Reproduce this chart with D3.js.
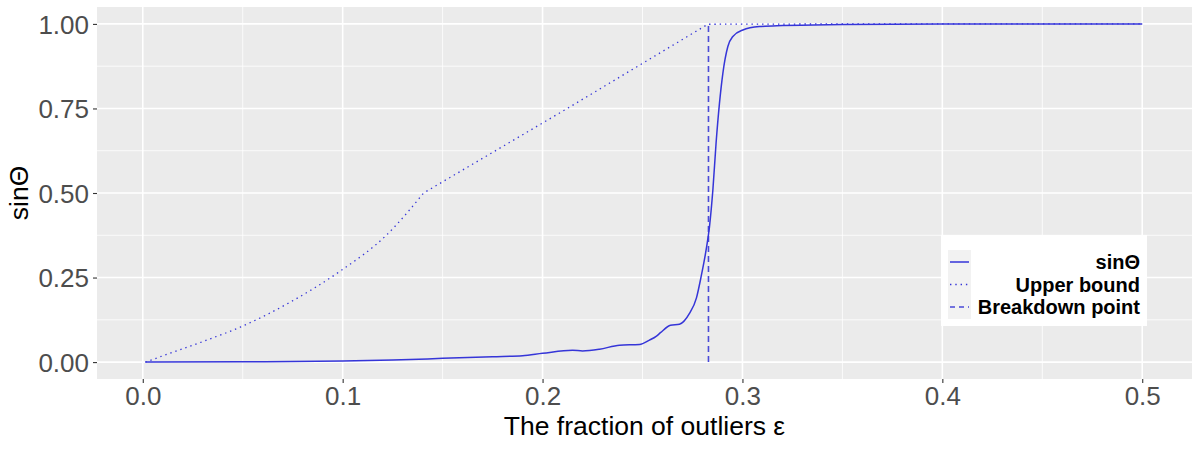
<!DOCTYPE html>
<html><head><meta charset="utf-8">
<script src="https://cdn.jsdelivr.net/npm/d3@7"></script>
<style>body{margin:0;background:#fff;}svg{display:block;font-family:"Liberation Sans",Arial,sans-serif;}</style>
</head><body><svg id="c" width="1200" height="450"></svg>
<script>
// ---- data ----
const sinX = [0.0013,0.05,0.1,0.125,0.15,0.175,0.19,0.2,0.215,0.22,0.2285,0.2385,0.2485,0.2535,0.257,0.259,0.264,0.2685,0.2735,0.277,0.2793,0.2818,0.2835,0.2852,0.2868,0.2885,0.2902,0.2927,0.2952,0.3002,0.3085,0.32,0.35,0.4,0.45,0.5];
const sinY = [0,0.001,0.003,0.006,0.011,0.016,0.019,0.026,0.035,0.033,0.038,0.05,0.052,0.065,0.077,0.087,0.109,0.112,0.144,0.19,0.252,0.331,0.40,0.509,0.647,0.765,0.854,0.933,0.963,0.982,0.992,0.995,0.998,1.0,1.0,1.0];
// upper bound: curved part up to the kink, then straight part
const upX1 = [0.0013,0.015,0.032,0.049,0.074,0.099,0.122,0.1405];
const upY1 = [0,0.029,0.065,0.104,0.178,0.270,0.376,0.500];
const upX2 = [0.1405,0.2118,0.2827,0.35,0.4,0.45,0.5];
const upY2 = [0.500,0.748,0.999,1.0,1.0,1.0,1.0];
const breakdownX = 0.283;
const xTicks = [0,0.1,0.2,0.3,0.4,0.5];
const xTickLabels = ["0.0","0.1","0.2","0.3","0.4","0.5"];
const yTicks = [0,0.25,0.5,0.75,1];
const yTickLabels = ["0.00","0.25","0.50","0.75","1.00"];
const seriesNames = ["sin\u0398","Upper bound","Breakdown point"];

const svg = d3.select("#c");
const L=97, R=1192, T=7, B=379;
const x = d3.scaleLinear().domain([-0.0229,0.5249]).range([L,R]);
const y = d3.scaleLinear().domain([-0.05,1.05]).range([B,T]);
const col = "#3535d8";

svg.append("rect").attr("x",L).attr("y",T).attr("width",R-L).attr("height",B-T).attr("fill","#ebebeb");
const g = svg.append("g");
const xMinor = d3.range(0.05,0.55,0.1);
const yMinor = [0.125,0.375,0.625,0.875];
g.selectAll(".xm").data(xMinor).join("line").attr("x1",d=>x(d)).attr("x2",d=>x(d)).attr("y1",T).attr("y2",B).attr("stroke","#fff").attr("stroke-width",0.8);
g.selectAll(".ym").data(yMinor).join("line").attr("y1",d=>y(d)).attr("y2",d=>y(d)).attr("x1",L).attr("x2",R).attr("stroke","#fff").attr("stroke-width",0.8);
g.selectAll(".xM").data(xTicks).join("line").attr("x1",d=>x(d)).attr("x2",d=>x(d)).attr("y1",T).attr("y2",B).attr("stroke","#fff").attr("stroke-width",1.6);
g.selectAll(".yM").data(yTicks).join("line").attr("y1",d=>y(d)).attr("y2",d=>y(d)).attr("x1",L).attr("x2",R).attr("stroke","#fff").attr("stroke-width",1.6);

const xAxis = d3.axisBottom(x).tickValues(xTicks).tickFormat((d,i)=>xTickLabels[i]).tickSize(4).tickPadding(4);
const yAxis = d3.axisLeft(y).tickValues(yTicks).tickFormat((d,i)=>yTickLabels[i]).tickSize(4).tickPadding(4);
const xa = svg.append("g").attr("transform",`translate(0,${B})`).call(xAxis);
const ya = svg.append("g").attr("transform",`translate(${L},0)`).call(yAxis);
[xa,ya].forEach(a=>{a.select(".domain").remove();a.selectAll(".tick line").attr("stroke","#333").attr("stroke-width",1.1);
 a.selectAll(".tick text").attr("fill","#4d4d4d").style("font-size","26px").style("font-family","'Liberation Sans',Arial,sans-serif");});
ya.selectAll(".tick text").attr("dy","0.36em");

// lines
const lineSmooth = d3.line().x(d=>x(d[0])).y(d=>y(d[1])).curve(d3.curveMonotoneX);
const lineStraight = d3.line().x(d=>x(d[0])).y(d=>y(d[1]));
const p1 = lineSmooth(upX1.map((v,i)=>[v,upY1[i]]));
const p2 = lineStraight(upX2.map((v,i)=>[v,upY2[i]])).replace(/^M/,"L");
svg.append("path").attr("d",p1+p2).attr("fill","none").attr("stroke",col).attr("stroke-width",1.3).attr("stroke-dasharray","1.4,3.9");
svg.append("path").datum([[breakdownX,0],[breakdownX,1]]).attr("d",lineStraight).attr("fill","none").attr("stroke","#4a4ad8").attr("stroke-width",1.6).attr("stroke-dasharray","6,4");
svg.append("path").datum(sinX.map((v,i)=>[v,sinY[i]])).attr("d",lineSmooth).attr("fill","none").attr("stroke",col).attr("stroke-width",1.5);

svg.append("text").attr("x",(L+R)/2).attr("y",435).attr("text-anchor","middle").style("font-size","26.5px").attr("fill","#000").text("The fraction of outliers \u03b5");
svg.append("text").attr("transform",`translate(28,${(T+B)/2}) rotate(-90)`).attr("text-anchor","middle").style("font-size","26.5px").attr("fill","#000").text("sin\u0398");

const lg = svg.append("g");
lg.append("rect").attr("x",941).attr("y",235).attr("width",206).attr("height",91).attr("fill","#fff");
lg.append("rect").attr("x",948).attr("y",250).attr("width",23).attr("height",69).attr("fill","#f2f2f2");
const rows=[262,284.5,307];
const dashes=[null,"1.4,3.9","5,4"];
seriesNames.forEach((n,i)=>{
  lg.append("line").attr("x1",950).attr("x2",969).attr("y1",rows[i]).attr("y2",rows[i]).attr("stroke",i==2?"#4a4ad8":col).attr("stroke-width",i==0?1.5:1.4).attr("stroke-dasharray",dashes[i]);
  lg.append("text").attr("x",1140).attr("y",rows[i]+7).attr("text-anchor","end").style("font-size","20px").style("font-weight","bold").attr("fill","#000").text(n);
});
</script></body></html>
